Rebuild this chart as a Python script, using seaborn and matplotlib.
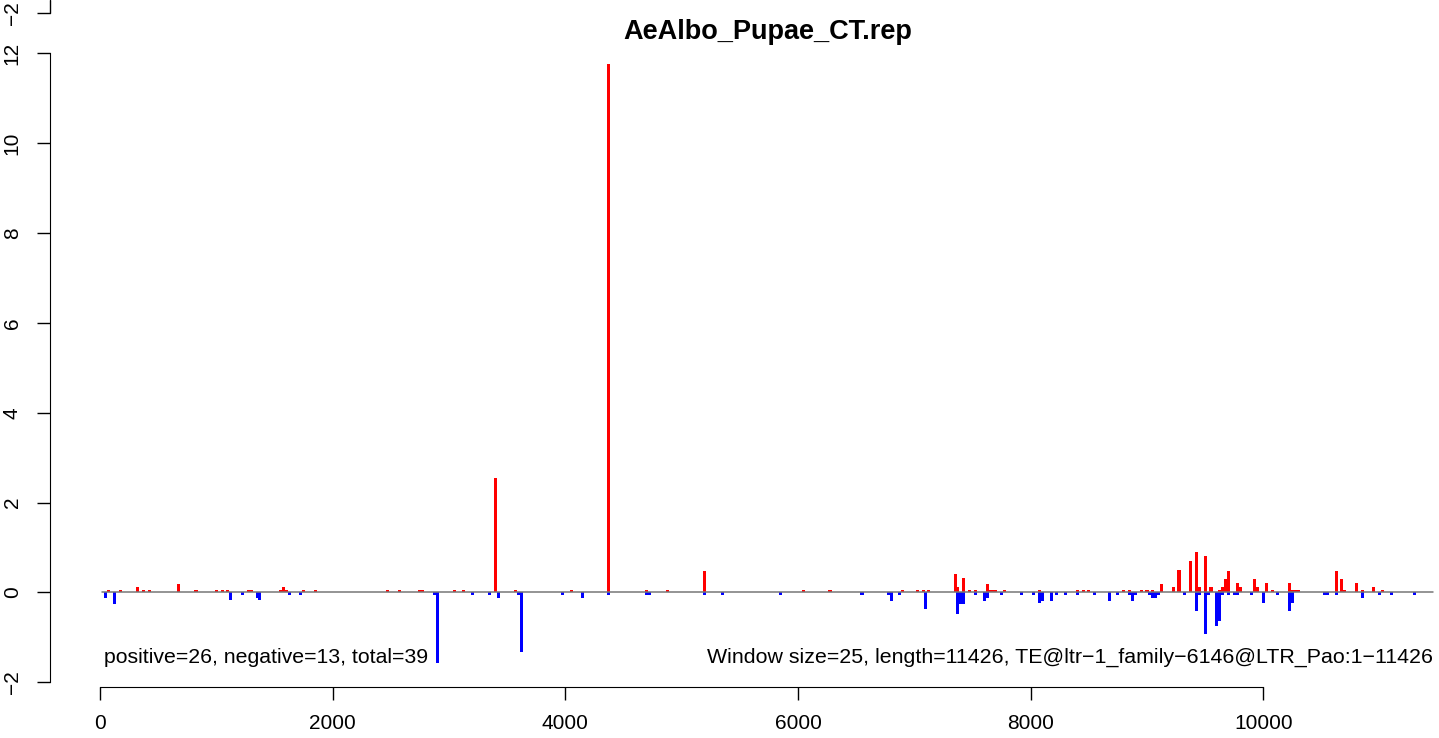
import matplotlib.pyplot as plt
import seaborn as sns

sns.set_style("ticks", {"axes.edgecolor": "black", "xtick.color": "black",
                        "ytick.color": "black", "text.color": "black"})
plt.rcParams["font.family"] = ["Liberation Sans", "DejaVu Sans"]
plt.rcParams["font.size"] = 15

title = "AeAlbo_Pupae_CT.rep"
left_note = "positive=26, negative=13, total=39"
right_note = "Window size=25, length=11426, TE@ltr\u22121_family\u22126146@LTR_Pao:1\u221211426"

# window positions (bp) and normalised coverage
pos_x = [75, 175, 325, 375, 425, 675, 825, 1000, 1050, 1100, 1275, 1300, 1550, 1575,
         1600, 1750, 1850, 2475, 2575, 2750, 2775, 3050, 3125, 3400, 3575, 4050, 4375,
         4700, 4875, 5200, 6050, 6275, 6900, 7025, 7075, 7125, 7350, 7375, 7425, 7475,
         7525, 7625, 7650, 7675, 7700, 7775, 8075, 8400, 8450, 8500, 8800, 8850, 8950,
         9000, 9050, 9125, 9225, 9275, 9375, 9425, 9450, 9500, 9550, 9625, 9650, 9675,
         9700, 9775, 9800, 9925, 9950, 10025, 10075, 10225, 10250, 10275, 10300, 10625,
         10675, 10700, 10800, 10850, 10950, 11025]
pos_y = [0.05, 0.05, 0.11, 0.05, 0.05, 0.18, 0.05, 0.05, 0.05, 0.05, 0.05, 0.05, 0.05, 0.11,
         0.05, 0.05, 0.05, 0.05, 0.05, 0.05, 0.05, 0.05, 0.05, 2.55, 0.05, 0.05, 11.75,
         0.05, 0.05, 0.47, 0.05, 0.05, 0.05, 0.05, 0.05, 0.05, 0.40, 0.11, 0.33, 0.05,
         0.05, 0.18, 0.05, 0.05, 0.05, 0.05, 0.05, 0.05, 0.05, 0.05, 0.05, 0.05, 0.05,
         0.05, 0.05, 0.18, 0.11, 0.51, 0.69, 0.91, 0.11, 0.80, 0.11, 0.05, 0.11, 0.29,
         0.47, 0.22, 0.11, 0.29, 0.11, 0.22, 0.05, 0.22, 0.05, 0.05, 0.05, 0.47,
         0.29, 0.05, 0.22, 0.05, 0.11, 0.05]

neg_x = [50, 125, 1125, 1225, 1350, 1375, 1625, 1725, 2875, 2900, 3200, 3350, 3425, 3600,
         3625, 3975, 4150, 4375, 4700, 4725, 5200, 5350, 5850, 6550, 6775, 6800, 6875,
         7100, 7375, 7400, 7425, 7525, 7600, 7625, 7750, 7925, 8025, 8075, 8100, 8175,
         8225, 8300, 8400, 8550, 8675, 8750, 8850, 8875, 8900, 9025, 9050, 9075, 9100,
         9325, 9425, 9450, 9500, 9525, 9600, 9625, 9650, 9700, 9750, 9775, 9900, 10000,
         10125, 10225, 10250, 10525, 10550, 10625, 10850, 11000, 11100, 11300]
neg_y = [-0.13, -0.25, -0.17, -0.06, -0.13, -0.17, -0.06, -0.06, -0.06, -1.56, -0.06, -0.06,
         -0.13, -0.06, -1.33, -0.06, -0.13, -0.06, -0.06, -0.06, -0.06, -0.06, -0.06, -0.06,
         -0.06, -0.18, -0.06, -0.36, -0.47, -0.25, -0.25, -0.06, -0.18, -0.13, -0.06, -0.06,
         -0.06, -0.24, -0.18, -0.18, -0.06, -0.06, -0.06, -0.06, -0.18, -0.06, -0.06, -0.18,
         -0.06, -0.06, -0.13, -0.13, -0.06, -0.06, -0.42, -0.06, -0.93, -0.06, -0.75, -0.64,
         -0.06, -0.06, -0.06, -0.06, -0.06, -0.24, -0.06, -0.42, -0.24, -0.06, -0.06, -0.06,
         -0.13, -0.06, -0.06, -0.06]

xticks = [0, 2000, 4000, 6000, 8000, 10000]
yticks = [-2, 0, 2, 4, 6, 8, 10, 12, 12.9]
ytick_labels = ["\u22122", "0", "2", "4", "6", "8", "10", "12", "\u22122"]

window = 25

fig = plt.figure(figsize=(14.39, 7.38), dpi=100)
ax = fig.add_axes([50 / 1439, 51 / 738, 1436 / 1439, 687 / 738])

sns.barplot(x=pos_x, y=pos_y, native_scale=True, color="red", saturation=1,
            errorbar=None, width=1, linewidth=0, ax=ax)
sns.barplot(x=neg_x, y=neg_y, native_scale=True, color="blue", saturation=1,
            errorbar=None, width=1, linewidth=0, ax=ax)

# make every bar one window wide (a touch more so thin bars keep their weight)
for bar in ax.patches:
    centre = bar.get_x() + bar.get_width() / 2.
    bar.set_x(centre - (window + 1) / 2.)
    bar.set_width(window + 1)

ax.plot([20, 11455], [0, 0], color="#777777", lw=1.1, zorder=5)

ax.set_xlim(-430, 11914)
ax.set_ylim(-2.105, 13.185)

for s in ["top", "right"]:
    ax.spines[s].set_visible(False)
ax.spines["bottom"].set_bounds(0, 10000)
ax.spines["left"].set_bounds(-2, 12)
ax.plot([0, 0], [12.9, 13.185], color="black", lw=1, clip_on=False,
        transform=ax.get_yaxis_transform())

ax.set_xticks(xticks)
ax.set_yticks(yticks, labels=ytick_labels)
ax.tick_params(axis="both", length=9.4, width=1)
ax.tick_params(axis="x", pad=10)
ax.tick_params(axis="y", pad=11, labelrotation=90)
for lab in ax.get_yticklabels():
    lab.set_va("center")
ax.set_xlabel("")
ax.set_ylabel("")

ax.text(0.5, 0.9534, title, transform=ax.transAxes, ha="center", va="center",
        fontsize=19.5, fontweight="bold")
ax.text(30, -1.44, left_note, ha="left", va="center", fontsize=15.3)
ax.text(11455, -1.44, right_note, ha="right", va="center", fontsize=15.4)

fig.savefig("out.png", dpi=100)
